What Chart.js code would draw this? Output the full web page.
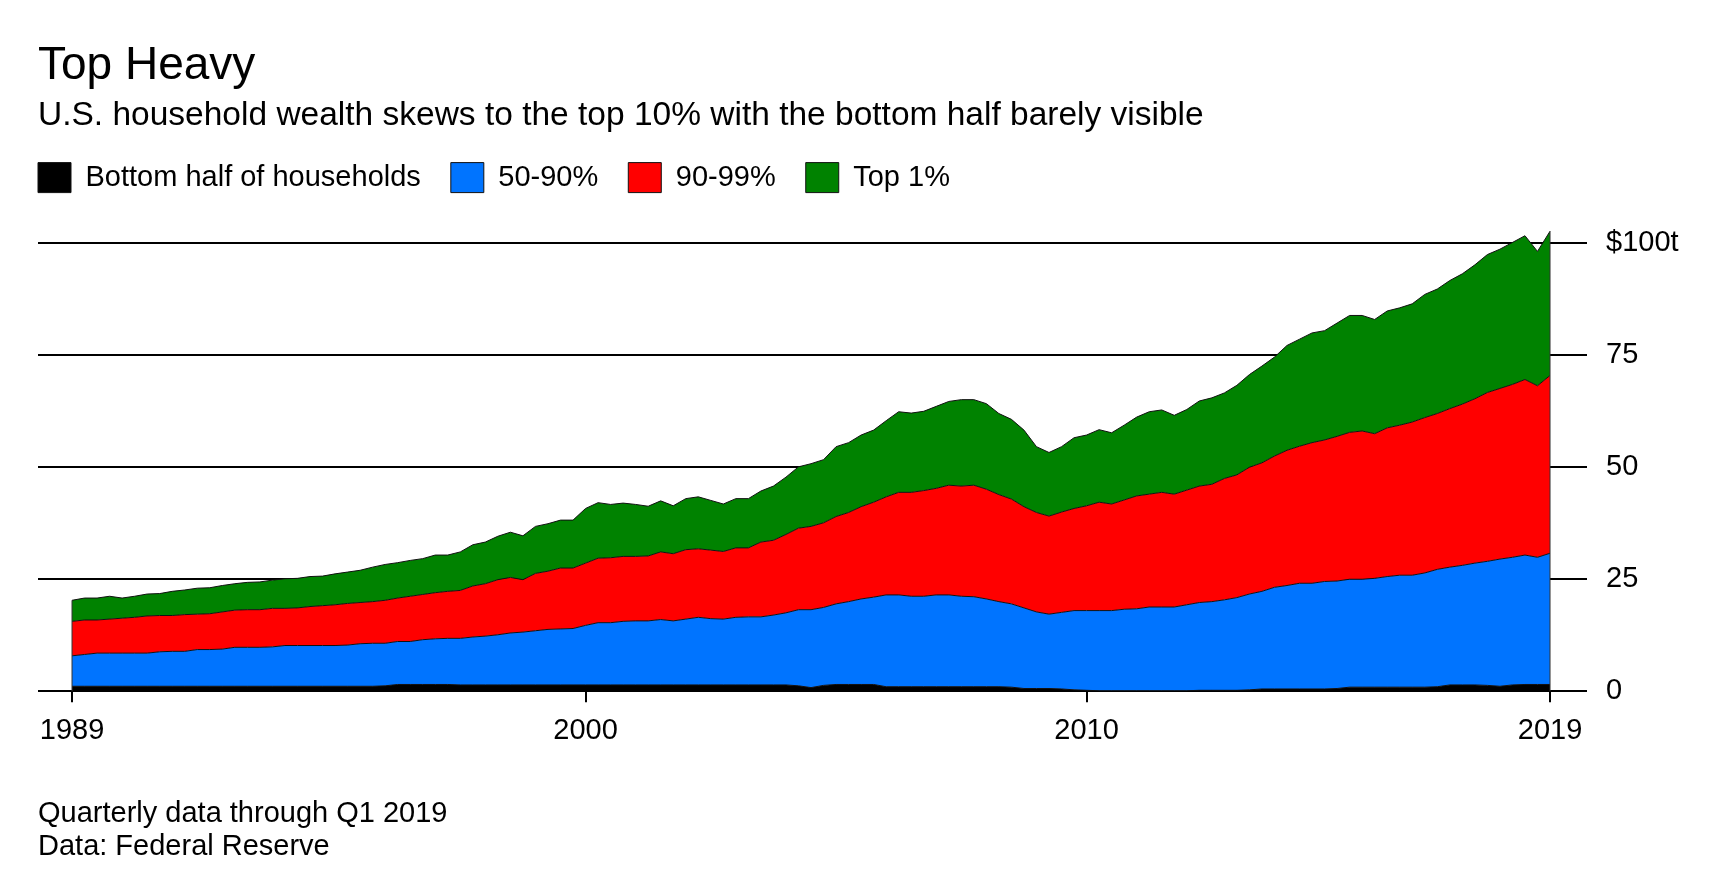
<!DOCTYPE html>
<html>
<head>
<meta charset="utf-8">
<script src="https://cdn.jsdelivr.net/npm/chart.js@4.4.1/dist/chart.umd.min.js"></script>
<style>
  html, body { margin: 0; padding: 0; background: #ffffff; }
  #wrap { width: 1716px; height: 876px; }
</style>
</head>
<body>
<div id="wrap"><canvas id="c" width="1716" height="876"></canvas></div>
<script>
// ---------------- DATA ----------------
// Quarterly data, 1989 Q3 through 2019 Q1 (119 quarters), $ trillions
const firstYear = 1989, firstQuarter = 3, quarterCount = 119;
const categories = [];
const xValues = [];   // quarter-end position in years
for (let k = 0; k < quarterCount; k++) {
  const q = (firstQuarter - 1 + k) % 4 + 1;
  const y = firstYear + Math.floor((firstQuarter - 1 + k) / 4);
  categories.push(y + ' Q' + q);
  xValues.push(y + q / 4);
}

const bottomHalf = [
  1.1,1.1,1.1,1.1,1.1,1.1,1.1,1.1,1.1,1.1,
  1.1,1.1,1.1,1.1,1.1,1.1,1.1,1.1,1.1,1.1,
  1.1,1.1,1.1,1.1,1.1,1.2,1.5,1.5,1.5,1.5,
  1.5,1.4,1.4,1.4,1.4,1.4,1.4,1.4,1.4,1.4,
  1.4,1.4,1.4,1.4,1.4,1.4,1.4,1.4,1.4,1.4,
  1.4,1.4,1.4,1.4,1.4,1.4,1.4,1.4,1.2,0.8,
  1.3,1.5,1.5,1.5,1.5,1.0,1.0,1.0,1.0,1.0,
  1.0,1.0,1.0,1.0,1.0,0.9,0.6,0.6,0.6,0.5,
  0.3,0.2,0.1,0.1,0.1,0.1,0.1,0.1,0.1,0.1,
  0.2,0.2,0.2,0.2,0.3,0.5,0.5,0.5,0.5,0.5,
  0.5,0.6,0.9,0.9,0.9,0.9,0.9,0.9,0.9,1.0,
  1.4,1.4,1.4,1.3,1.1,1.4,1.5,1.5,1.5
];
const mid50to90 = [
  6.8,7.1,7.4,7.4,7.4,7.4,7.4,7.7,7.8,7.8,
  8.2,8.2,8.3,8.7,8.7,8.7,8.8,9.1,9.1,9.1,
  9.1,9.1,9.2,9.5,9.6,9.5,9.6,9.6,10.0,10.2,
  10.3,10.4,10.7,10.9,11.2,11.6,11.8,12.1,12.4,12.5,
  12.6,13.3,13.9,13.9,14.2,14.3,14.3,14.6,14.3,14.7,
  15.1,14.8,14.7,15.1,15.2,15.2,15.6,16.1,17.0,17.4,
  17.4,18.0,18.5,19.1,19.5,20.5,20.5,20.2,20.2,20.5,
  20.5,20.2,20.1,19.6,19.0,18.6,18.0,17.1,16.6,17.1,
  17.7,17.8,17.9,17.9,18.2,18.3,18.7,18.7,18.7,19.2,
  19.6,19.8,20.2,20.7,21.4,21.8,22.7,23.1,23.6,23.6,
  24.0,24.0,24.1,24.1,24.3,24.7,25.0,25.0,25.5,26.2,
  26.3,26.7,27.2,27.7,28.4,28.5,28.9,28.4,29.3
];
const top90to99 = [
  7.7,7.7,7.4,7.6,7.8,8.0,8.3,8.1,8.0,8.2,
  7.9,8.0,8.3,8.3,8.4,8.4,8.6,8.3,8.4,8.7,
  8.9,9.1,9.3,9.2,9.3,9.6,9.7,10.1,10.1,10.3,
  10.5,10.7,11.4,11.7,12.3,12.4,11.7,12.8,13.0,13.6,
  13.5,13.9,14.4,14.5,14.5,14.4,14.5,15.1,15.0,15.5,
  15.3,15.3,15.1,15.5,15.4,16.7,16.7,17.5,18.2,18.6,
  18.9,19.5,19.9,20.6,21.2,21.9,22.9,23.2,23.6,23.8,
  24.5,24.6,24.9,24.5,23.9,23.4,22.6,22.2,21.9,22.4,
  22.8,23.4,24.2,23.8,24.4,25.2,25.2,25.6,25.2,25.6,
  26.0,26.2,27.1,27.4,28.3,28.7,29.3,30.2,30.6,31.4,
  31.6,32.3,32.8,33.1,32.3,33.2,33.5,34.2,34.7,34.8,
  35.4,36.0,36.7,37.7,38.1,38.6,39.2,38.3,39.7
];
const top1 = [
  4.7,4.9,4.9,5.1,4.5,4.7,4.9,4.9,5.4,5.5,
  5.8,5.8,5.9,5.9,6.1,6.2,6.3,6.6,6.6,6.7,
  6.6,6.9,7.0,7.2,7.7,8.0,7.9,8.0,8.0,8.4,
  8.1,8.6,9.2,9.3,9.7,10.1,9.8,10.5,10.6,10.7,
  10.7,12.2,12.4,11.9,11.9,11.6,11.1,11.4,10.7,11.4,
  11.6,11.1,10.6,11.0,11.0,11.4,12.1,12.8,13.7,14.0,
  14.1,15.6,15.6,16.0,16.1,17.0,18.0,17.7,17.7,18.3,
  18.7,19.3,19.1,19.1,18.1,17.8,17.1,14.7,14.2,14.6,
  15.8,15.8,16.2,15.9,16.7,17.6,18.4,18.4,17.6,18.0,
  19.0,19.3,19.1,20.0,20.7,21.6,22.1,23.4,23.9,24.5,
  24.4,25.3,26.1,25.8,25.5,26.1,26.2,26.4,27.5,27.8,
  28.6,29.1,29.9,30.8,31.1,31.7,32.1,30.0,32.2
];

const seriesNames = ['Bottom half of households', '50-90%', '90-99%', 'Top 1%'];
const seriesColors = ['#000000', '#0074ff', '#ff0000', '#008200'];

const xTickValues = [1989.75, 2000, 2010, 2019.25];
const xTickLabels = ['1989', '2000', '2010', '2019'];
const yTickValues = [0, 25, 50, 75, 100];
const yTickLabels = ['0', '25', '50', '75', '$100t'];

const titleText = 'Top Heavy';
const subtitleText = 'U.S. household wealth skews to the top 10% with the bottom half barely visible';
const footerLines = ['Quarterly data through Q1 2019', 'Data: Federal Reserve'];

// ---------------- CHART ----------------
const FONT = "'Liberation Sans', Arial, Helvetica, sans-serif";
const allSeries = [bottomHalf, mid50to90, top90to99, top1];

function makeSet(i, values) {
  return {
    label: seriesNames[i],
    data: values.map((v, k) => ({ x: xValues[k], y: v })),
    backgroundColor: seriesColors[i],
    borderColor: '#111111',
    borderWidth: 1,
    fill: i === 0 ? 'origin' : '-1',
    pointRadius: 0,
    pointHoverRadius: 0,
    tension: 0
  };
}

const legendShift = {
  id: 'legendShift',
  afterLayout(chart) {
    if (chart.legend) chart.legend.left = chart.chartArea.left - chart.options.plugins.legend.labels.padding;
  }
};

// thin outline on the left and right ends of the stacked area
const edgeOutline = {
  id: 'edgeOutline',
  afterDatasetsDraw(chart) {
    const ctx = chart.ctx, xs = chart.scales.x, ys = chart.scales.y;
    ctx.save();
    ctx.strokeStyle = '#333';
    ctx.lineWidth = 1;
    [0, quarterCount - 1].forEach(k => {
      const total = allSeries.reduce((s, arr) => s + arr[k], 0);
      const px = xs.getPixelForValue(xValues[k]);
      ctx.beginPath();
      ctx.moveTo(px, ys.getPixelForValue(0));
      ctx.lineTo(px, ys.getPixelForValue(total));
      ctx.stroke();
    });
    ctx.restore();
  }
};

const footer = {
  id: 'footer',
  afterDraw(chart) {
    const ctx = chart.ctx;
    ctx.save();
    ctx.font = '29px ' + FONT;
    ctx.fillStyle = '#000';
    ctx.textAlign = 'left';
    ctx.textBaseline = 'alphabetic';
    footerLines.forEach((t, i) => ctx.fillText(t, 38, 822 + i * 33));
    ctx.restore();
  }
};

new Chart(document.getElementById('c'), {
  type: 'line',
  data: {
    datasets: allSeries.map((arr, i) => makeSet(i, arr))
  },
  plugins: [legendShift, edgeOutline, footer],
  options: {
    responsive: false,
    animation: false,
    layout: { padding: { top: 38.4, left: 38, right: 0, bottom: 117 } },
    interaction: { mode: 'index', intersect: false },
    plugins: {
      title: {
        display: true, text: titleText, align: 'start', color: '#000',
        font: { family: FONT, size: 46, weight: 'normal', lineHeight: 1.2 },
        padding: { top: 0, bottom: 5.5 }
      },
      subtitle: {
        display: true, text: subtitleText, align: 'start', color: '#000',
        font: { family: FONT, size: 33.5, weight: 'normal', lineHeight: 1.0 },
        padding: { top: 0, bottom: 0 }
      },
      legend: {
        display: true, position: 'top', align: 'start',
        labels: {
          boxWidth: 33, boxHeight: 30, padding: 30, color: '#000',
          font: { family: FONT, size: 29 }
        }
      },
      tooltip: { enabled: false }
    },
    scales: {
      x: {
        type: 'linear', min: 1989.071, max: 2019.988,
        afterBuildTicks: s => { s.ticks = xTickValues.map(v => ({ value: v })); },
        grid: { display: true, drawOnChartArea: false, drawTicks: true, tickLength: 11, color: '#000', lineWidth: 2 },
        border: { display: false },
        ticks: {
          padding: 11, color: '#000', maxRotation: 0, autoSkip: false,
          font: { family: FONT, size: 29 },
          callback: v => xTickLabels[xTickValues.indexOf(v)]
        }
      },
      y: {
        position: 'right', stacked: true, min: 0, max: 109.1,
        afterBuildTicks: s => { s.ticks = yTickValues.map(v => ({ value: v })); },
        afterFit: s => { s.width = 129; },
        grid: { color: '#000', lineWidth: 2, drawTicks: false },
        border: { display: false },
        ticks: {
          padding: 19, color: '#000',
          font: { family: FONT, size: 29 },
          callback: v => yTickLabels[yTickValues.indexOf(v)]
        }
      }
    }
  }
});
</script>
</body>
</html>
